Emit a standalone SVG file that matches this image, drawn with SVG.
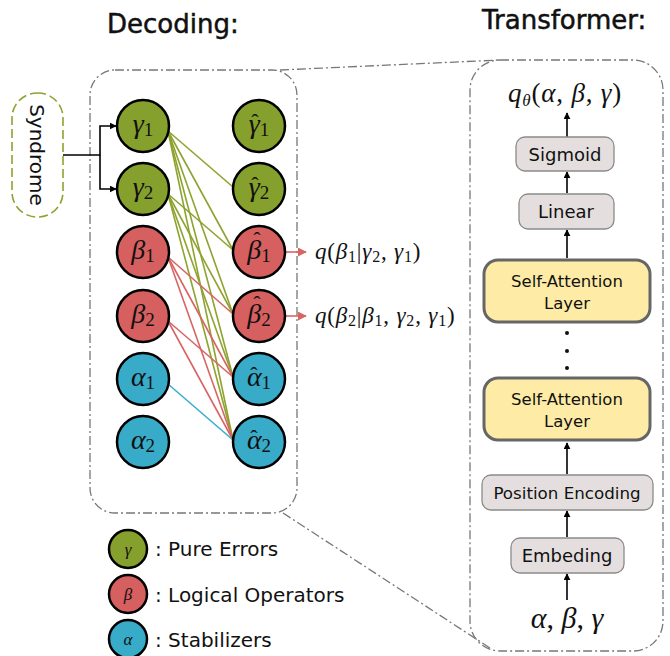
<svg xmlns="http://www.w3.org/2000/svg" width="670" height="656" viewBox="0 0 670 656">
<defs>
<style>
.title{font-family:"DejaVu Sans",Verdana,sans-serif;font-size:26px;fill:#111;stroke:#111;stroke-width:0.5}
.lab{font-family:"DejaVu Sans",Verdana,sans-serif;fill:#111}
.math{font-family:"Liberation Serif","DejaVu Serif",serif;font-style:italic;fill:#111}
.sub{font-style:normal}
.frame{fill:none;stroke:#777;stroke-width:1.3;stroke-dasharray:9 3 2 3}
.g{fill:#86a02d;stroke:#000;stroke-width:2.5}
.r{fill:#d65f5f;stroke:#000;stroke-width:2.5}
.b{fill:#37abc8;stroke:#000;stroke-width:2.5}
.box{fill:#e4dfde;stroke:#8a8a8a;stroke-width:1.3}
.sa{fill:#fdeba6;stroke:#666;stroke-width:3}
.lg{stroke:#8da32e;stroke-width:1.6;fill:none}
.lr{stroke:#d86464;stroke-width:1.6;fill:none}
.lb{stroke:#3aaed0;stroke-width:1.6;fill:none}
.blk{stroke:#000;stroke-width:1.6;fill:none}
.node{font-size:28px}
.ns{font-size:19px;font-style:normal}
.hat{font-size:22px;font-style:normal}
.q{font-size:23px;letter-spacing:0.8px}
.qs{font-size:16px;font-style:normal}
</style>
<marker id="ab" viewBox="0 0 10 10" refX="9" refY="5" markerWidth="7" markerHeight="7" orient="auto" markerUnits="userSpaceOnUse"><path d="M0,0 L10,5 L0,10 z" fill="#000"/></marker>
<marker id="ar" viewBox="0 0 10 10" refX="9" refY="5" markerWidth="9" markerHeight="9" orient="auto" markerUnits="userSpaceOnUse"><path d="M0,0 L10,5 L0,10 z" fill="#d86464"/></marker>
</defs>

<text class="title" x="107" y="33">Decoding:</text>
<text class="title" x="482" y="29">Transformer:</text>

<!-- frames -->
<g id="frames">
<rect class="frame" x="90" y="70" width="207" height="443" rx="25"/>
<rect class="frame" x="470" y="60" width="193" height="591" rx="30"/>
<line class="frame" x1="280" y1="70" x2="500" y2="60"/>
<line class="frame" x1="283" y1="513" x2="490" y2="648"/>
</g>

<!-- connectors -->
<g id="connectors">
<path class="blk" d="M63,155 H100 V126 H116" marker-end="url(#ab)"/>
<path class="blk" d="M100,155 V189 H116" marker-end="url(#ab)"/>
<line class="lg" x1="168" y1="131" x2="233" y2="187"/>
<line class="lg" x1="168" y1="131" x2="233" y2="250"/>
<line class="lg" x1="168" y1="131" x2="233" y2="314"/>
<line class="lg" x1="168" y1="131" x2="233" y2="377"/>
<line class="lg" x1="168" y1="131" x2="233" y2="440"/>
<line class="lg" x1="168" y1="194" x2="233" y2="250"/>
<line class="lg" x1="168" y1="194" x2="233" y2="314"/>
<line class="lg" x1="168" y1="194" x2="233" y2="377"/>
<line class="lg" x1="168" y1="194" x2="233" y2="440"/>
<line class="lr" x1="168" y1="257" x2="233" y2="314"/>
<line class="lr" x1="168" y1="257" x2="233" y2="377"/>
<line class="lr" x1="168" y1="257" x2="233" y2="440"/>
<line class="lr" x1="168" y1="321" x2="233" y2="377"/>
<line class="lr" x1="168" y1="321" x2="233" y2="440"/>
<line class="lb" x1="168" y1="384" x2="233" y2="440"/>
<line class="lr" x1="285" y1="252" x2="306" y2="252" marker-end="url(#ar)"/>
<line class="lr" x1="285" y1="316" x2="306" y2="316" marker-end="url(#ar)"/>
<line class="blk" x1="567" y1="137" x2="567" y2="113" marker-end="url(#ab)"/>
<line class="blk" x1="567" y1="193" x2="567" y2="172" marker-end="url(#ab)"/>
<line class="blk" x1="567" y1="258" x2="567" y2="230" marker-end="url(#ab)"/>
<line class="blk" x1="567" y1="474" x2="567" y2="443" marker-end="url(#ab)"/>
<line class="blk" x1="567" y1="537" x2="567" y2="511" marker-end="url(#ab)"/>
<line class="blk" x1="567" y1="600" x2="567" y2="574" marker-end="url(#ab)"/>
</g>

<!-- syndrome -->
<g id="syndrome">
<rect x="12" y="93" width="51" height="124" rx="25" fill="#fff" stroke="#8da32e" stroke-width="1.6" stroke-dasharray="9 4"/>
<text class="lab" font-size="20" transform="translate(30,155) rotate(90)" text-anchor="middle">Syndrome</text>
</g>

<!-- left nodes -->
<g id="gamma1"><circle class="g" cx="143" cy="126" r="26"/><text class="math node" x="143" y="133" text-anchor="middle">γ<tspan class="ns" dy="3">1</tspan></text></g>
<g id="gamma2"><circle class="g" cx="143" cy="189" r="26"/><text class="math node" x="143" y="196" text-anchor="middle">γ<tspan class="ns" dy="3">2</tspan></text></g>
<g id="beta1"><circle class="r" cx="143" cy="252" r="26"/><text class="math node" x="143" y="259" text-anchor="middle">β<tspan class="ns" dy="3">1</tspan></text></g>
<g id="beta2"><circle class="r" cx="143" cy="316" r="26"/><text class="math node" x="143" y="323" text-anchor="middle">β<tspan class="ns" dy="3">2</tspan></text></g>
<g id="alpha1"><circle class="b" cx="143" cy="379" r="26"/><text class="math node" x="143" y="386" text-anchor="middle">α<tspan class="ns" dy="3">1</tspan></text></g>
<g id="alpha2"><circle class="b" cx="143" cy="442" r="26"/><text class="math node" x="143" y="449" text-anchor="middle">α<tspan class="ns" dy="3">2</tspan></text></g>

<!-- right nodes -->
<g id="gammahat1"><circle class="g" cx="259" cy="126" r="26"/><text class="math node" x="259" y="133" text-anchor="middle">γ<tspan class="ns" dy="3">1</tspan><tspan class="hat" x="255" y="129">ˆ</tspan></text></g>
<g id="gammahat2"><circle class="g" cx="259" cy="189" r="26"/><text class="math node" x="259" y="196" text-anchor="middle">γ<tspan class="ns" dy="3">2</tspan><tspan class="hat" x="255" y="192">ˆ</tspan></text></g>
<g id="betahat1"><circle class="r" cx="259" cy="252" r="26"/><text class="math node" x="259" y="259" text-anchor="middle">β<tspan class="ns" dy="3">1</tspan><tspan class="hat" x="257" y="247">ˆ</tspan></text></g>
<g id="betahat2"><circle class="r" cx="259" cy="316" r="26"/><text class="math node" x="259" y="323" text-anchor="middle">β<tspan class="ns" dy="3">2</tspan><tspan class="hat" x="257" y="311">ˆ</tspan></text></g>
<g id="alphahat1"><circle class="b" cx="259" cy="379" r="26"/><text class="math node" x="259" y="386" text-anchor="middle">α<tspan class="ns" dy="3">1</tspan><tspan class="hat" x="254" y="382">ˆ</tspan></text></g>
<g id="alphahat2"><circle class="b" cx="259" cy="442" r="26"/><text class="math node" x="259" y="449" text-anchor="middle">α<tspan class="ns" dy="3">2</tspan><tspan class="hat" x="254" y="445">ˆ</tspan></text></g>

<!-- output labels -->
<g id="q1"><text class="math q" x="315" y="259">q<tspan class="sub">(</tspan>β<tspan class="qs" dy="3">1</tspan><tspan class="sub" dy="-3">|</tspan>γ<tspan class="qs" dy="3">2</tspan><tspan class="sub" dy="-3">, </tspan>γ<tspan class="qs" dy="3">1</tspan><tspan class="sub" dy="-3">)</tspan></text></g>
<g id="q2"><text class="math q" x="315" y="323">q<tspan class="sub">(</tspan>β<tspan class="qs" dy="3">2</tspan><tspan class="sub" dy="-3">|</tspan>β<tspan class="qs" dy="3">1</tspan><tspan class="sub" dy="-3">, </tspan>γ<tspan class="qs" dy="3">2</tspan><tspan class="sub" dy="-3">, </tspan>γ<tspan class="qs" dy="3">1</tspan><tspan class="sub" dy="-3">)</tspan></text></g>

<!-- transformer -->
<g id="qtheta"><text class="math" x="565" y="102" font-size="27" letter-spacing="0.8" text-anchor="middle">q<tspan font-size="17" dy="4">θ</tspan><tspan class="sub" dy="-4">(</tspan>α<tspan class="sub">, </tspan>β<tspan class="sub">, </tspan>γ<tspan class="sub">)</tspan></text></g>
<g id="sigmoid"><rect class="box" x="516" y="137" width="98" height="34" rx="9"/><text class="lab" x="565" y="161" font-size="18" text-anchor="middle">Sigmoid</text></g>
<g id="linear"><rect class="box" x="519" y="194" width="95" height="35" rx="9"/><text class="lab" x="566" y="218" font-size="18" text-anchor="middle">Linear</text></g>
<g id="sa1"><rect class="sa" x="484" y="260" width="166" height="62" rx="14"/><text class="lab" x="567" y="287" font-size="16.5" text-anchor="middle">Self-Attention</text><text class="lab" x="567" y="309" font-size="16.5" text-anchor="middle">Layer</text></g>
<g id="dots"><circle cx="567" cy="333" r="2" fill="#111"/><circle cx="567" cy="351" r="2" fill="#111"/><circle cx="567" cy="368" r="2" fill="#111"/></g>
<g id="sa2"><rect class="sa" x="484" y="378" width="166" height="62" rx="14"/><text class="lab" x="567" y="405" font-size="16.5" text-anchor="middle">Self-Attention</text><text class="lab" x="567" y="427" font-size="16.5" text-anchor="middle">Layer</text></g>
<g id="posenc"><rect class="box" x="482" y="475" width="171" height="35" rx="9"/><text class="lab" x="567" y="499" font-size="16.7" text-anchor="middle">Position Encoding</text></g>
<g id="embed"><rect class="box" x="511" y="538" width="113" height="35" rx="9"/><text class="lab" x="567" y="562" font-size="18" text-anchor="middle">Embeding</text></g>
<g id="input"><text class="math" x="567" y="628" font-size="30" text-anchor="middle">α<tspan class="sub">, </tspan>β<tspan class="sub">, </tspan>γ</text></g>

<!-- legend -->
<g id="legend-gamma"><circle class="g" cx="128" cy="549" r="19" stroke-width="2"/><text class="math" x="128" y="555" font-size="17" text-anchor="middle">γ</text><text class="lab" x="155" y="556" font-size="20">: Pure Errors</text></g>
<g id="legend-beta"><circle class="r" cx="128" cy="594" r="19" stroke-width="2"/><text class="math" x="128" y="600" font-size="17" text-anchor="middle">β</text><text class="lab" x="155" y="602" font-size="20">: Logical Operators</text></g>
<g id="legend-alpha"><circle class="b" cx="128" cy="639" r="19" stroke-width="2"/><text class="math" x="128" y="645" font-size="17" text-anchor="middle">α</text><text class="lab" x="155" y="647" font-size="20">: Stabilizers</text></g>
</svg>
